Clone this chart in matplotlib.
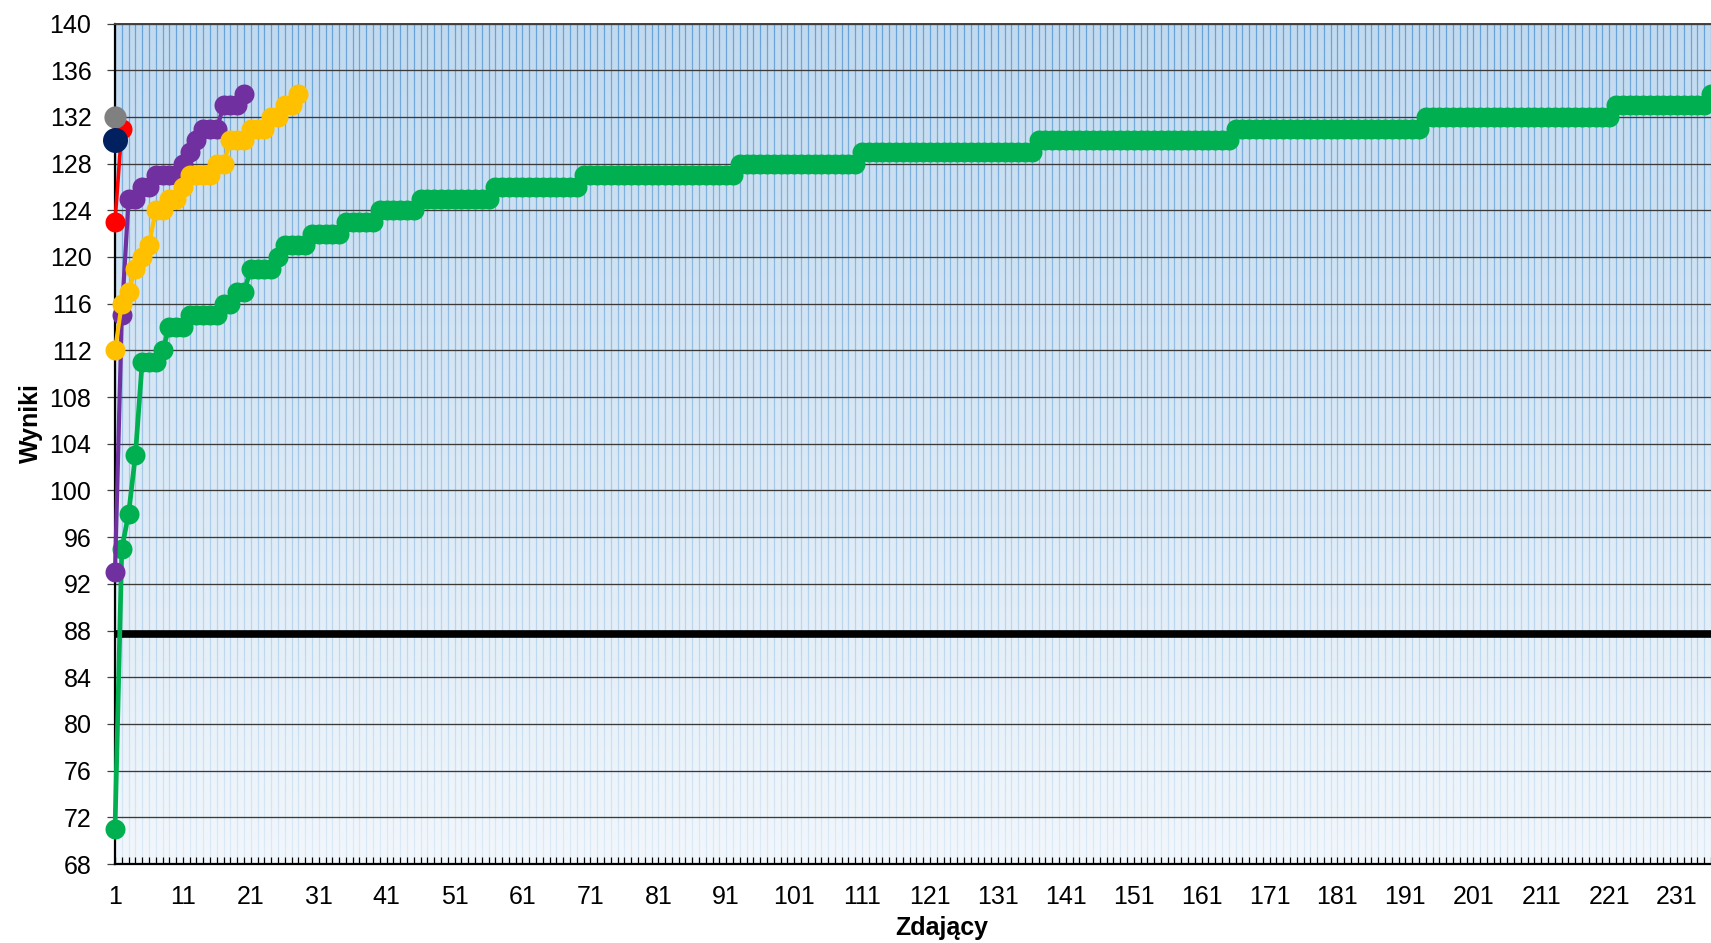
import numpy as np
import matplotlib
matplotlib.use("Agg")
import matplotlib.pyplot as plt
from matplotlib.ticker import FixedLocator, MultipleLocator

plt.rcParams["font.family"] = ["Liberation Sans", "DejaVu Sans"]

# scores sorted ascending, one entry per candidate
green_scores = [
    71, 95, 98, 103, 111, 111, 111, 112, 114, 114, 114,
    115, 115, 115, 115, 115, 116, 116, 117, 117,
    119, 119, 119, 119, 120, 121, 121, 121, 121,
    122, 122, 122, 122, 122, 123, 123, 123, 123, 123,
    124, 124, 124, 124, 124, 124,
    125, 125, 125, 125, 125, 125, 125, 125, 125, 125, 125,
    126, 126, 126, 126, 126, 126, 126, 126, 126, 126, 126, 126, 126,
    127, 127, 127, 127, 127, 127, 127, 127, 127, 127, 127, 127,
    127, 127, 127, 127, 127, 127, 127, 127, 127, 127, 127,
    128, 128, 128, 128, 128, 128, 128, 128, 128,
    128, 128, 128, 128, 128, 128, 128, 128, 128,
    129, 129, 129, 129, 129, 129, 129, 129, 129, 129, 129, 129, 129,
    129, 129, 129, 129, 129, 129, 129, 129, 129, 129, 129, 129, 129,
    130, 130, 130, 130, 130, 130, 130, 130, 130, 130, 130, 130, 130, 130, 130,
    130, 130, 130, 130, 130, 130, 130, 130, 130, 130, 130, 130, 130, 130,
    131, 131, 131, 131, 131, 131, 131, 131, 131, 131, 131, 131, 131, 131,
    131, 131, 131, 131, 131, 131, 131, 131, 131, 131, 131, 131, 131, 131,
    132, 132, 132, 132, 132, 132, 132, 132, 132, 132, 132, 132, 132, 132,
    132, 132, 132, 132, 132, 132, 132, 132, 132, 132, 132, 132, 132, 132,
    133, 133, 133, 133, 133, 133, 133, 133, 133, 133, 133, 133, 133, 133,
    134,
]
purple_scores = [93, 115, 125, 125, 126, 126, 127, 127, 127, 127,
                 128, 129, 130, 131, 131, 131, 133, 133, 133, 134]
yellow_scores = [112, 116, 117, 119, 120, 121, 124, 124, 125, 125,
                 126, 127, 127, 127, 127, 128, 128, 130, 130, 130,
                 131, 131, 131, 132, 132, 133, 133, 134]
red_scores = [123, 131]
gray_scores = [132]
navy_scores = [130]
threshold = 87.7

y_ticks = list(range(68, 141, 4))
x_labels = list(range(1, 232, 10))

W, H = 1711, 943
fig = plt.figure(figsize=(W / 100, H / 100), dpi=100)
ax = fig.add_axes([115 / W, 79 / H, 1596 / W, 840.5 / H])

n = len(green_scores)
cats = np.arange(1, n + 1)

# plot area: blue base, vertical category lines, fading white overlay
ax.set_facecolor("#BDD7EE")
ax.vlines(cats, 68, 140, color="#5B9BD5", lw=0.9, zorder=0.5)
fade = np.ones((256, 1, 4))
fade[:, 0, 3] = np.linspace(0.8, 0.08, 256)
ax.imshow(fade, extent=(1, n, 68, 140), origin="lower", aspect="auto",
          zorder=0.8, interpolation="bilinear")

ax.set_axisbelow("line")
ax.grid(axis="y", color="#3a3a3a", lw=0.95)

ax.plot(cats, [threshold] * n, color="black", lw=5.5, zorder=2, solid_capstyle="butt")

series = [
    (green_scores, "#00B050", 14.4, 3.4),
    (purple_scores, "#7030A0", 14.4, 3.0),
    (yellow_scores, "#FFC000", 14.4, 3.0),
    (red_scores, "#FF0000", 14.4, 2.6),
    (gray_scores, "#808080", 16.0, 2.6),
    (navy_scores, "#002060", 18.0, 2.6),
]
for z, (vals, col, ms, lw) in enumerate(series):
    x = np.arange(1, len(vals) + 1)
    ax.plot(x, vals, color=col, lw=lw, marker="o", ms=ms, mec=col, mew=0,
            zorder=3 + z, clip_on=False)

ax.set_xlim(1, n)
ax.set_ylim(68, 140)
ax.set_yticks(y_ticks)
ax.xaxis.set_major_locator(FixedLocator(x_labels))
ax.xaxis.set_minor_locator(MultipleLocator(1))

ax.tick_params(axis="x", which="both", direction="in", length=5, width=0.9,
               color="black", labelsize=18, pad=15)
ax.tick_params(axis="y", direction="out", length=6, width=0.9,
               color="#404040", labelsize=18, pad=11)

for side in ("left", "bottom"):
    ax.spines[side].set_color("black")
    ax.spines[side].set_linewidth(1.6)
ax.spines["top"].set_color("#404040")
ax.spines["top"].set_linewidth(1.4)
ax.spines["right"].set_visible(False)

ax.set_ylabel("Wyniki", fontsize=18, fontweight="bold")
ax.set_xlabel("Zdający", fontsize=18, fontweight="bold")
ax.yaxis.set_label_coords(-0.045, 0.525)
ax.xaxis.set_label_coords(0.518, -0.062)
ax.xaxis.label.set_va("top")

fig.savefig("out.png", dpi=100)
